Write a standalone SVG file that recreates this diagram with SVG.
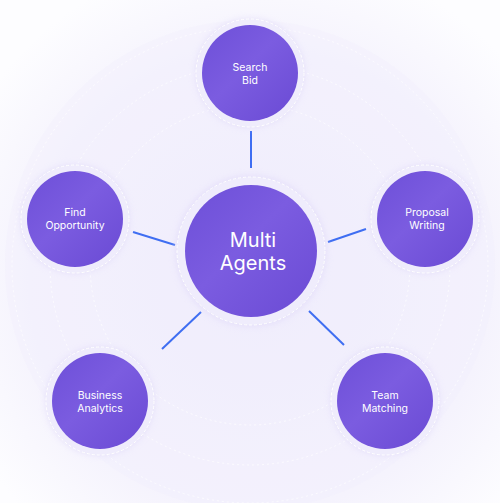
<svg xmlns="http://www.w3.org/2000/svg" width="500" height="503" viewBox="0 0 500 503">
  <defs>
    <radialGradient id="bg" cx="260" cy="280" r="330" gradientUnits="userSpaceOnUse">
      <stop offset="0" stop-color="#efecfc"/>
      <stop offset="0.7" stop-color="#f5f3fd"/>
      <stop offset="1" stop-color="#fdfdff"/>
    </radialGradient>
    <linearGradient id="nodeFill" x1="0" y1="0" x2="1" y2="1">
      <stop offset="0" stop-color="#6d4fd8"/>
      <stop offset="0.45" stop-color="#7b5ce0"/>
      <stop offset="1" stop-color="#6a4ad4"/>
    </linearGradient>
    <filter id="glow" x="-30%" y="-30%" width="160%" height="160%">
      <feGaussianBlur stdDeviation="3"/>
    </filter>
  </defs>
  <style>
    .ring { fill: #efecfc; stroke: #ffffff; stroke-width: 1; stroke-dasharray: 3 2; }
    .halo { fill: #dcd4f8; opacity: 0.5; filter: url(#glow); }
    .core { fill: url(#nodeFill); }
    .lbl { font-family: Inter, "Liberation Sans", sans-serif; font-size: 10.5px; fill: #ffffff; text-anchor: middle; }
    .big { font-family: Inter, "Liberation Sans", sans-serif; font-size: 20px; fill: #ffffff; text-anchor: middle; }
    .edge { stroke: #3f6ef2; stroke-width: 2; fill: none; }
    .orbit { fill: none; stroke: #ffffff; stroke-width: 1; opacity: 0.7; }
  </style>
  <rect width="500" height="503" fill="url(#bg)"/>
  <circle cx="250" cy="265" r="245" fill="#f1eefc" opacity="0.35"/>
  <circle cx="250" cy="265" r="238" class="orbit" stroke-dasharray="2 3"/>
  <circle cx="250" cy="265" r="200" class="orbit" stroke-dasharray="2 3"/>
  <circle cx="250" cy="265" r="160" class="orbit" stroke-dasharray="2 3" opacity="0.4"/>

  <g id="connectors">
    <line class="edge" x1="251" y1="131" x2="251" y2="168"/>
    <line class="edge" x1="133" y1="232" x2="175" y2="245"/>
    <line class="edge" x1="328" y1="242" x2="366" y2="229"/>
    <line class="edge" x1="162" y1="349" x2="201" y2="312"/>
    <line class="edge" x1="309" y1="311" x2="344" y2="345"/>
  </g>

  <g id="multi-agents">
    <circle class="halo" cx="251" cy="251" r="76"/>
    <circle class="ring" cx="251" cy="251" r="74"/>
    <circle class="core" cx="251" cy="251" r="66"/>
    <text class="big" x="253" y="247">Multi</text>
    <text class="big" x="253" y="270">Agents</text>
  </g>

  <g id="search-bid">
    <circle class="halo" cx="250" cy="73" r="55"/>
    <circle class="ring" cx="250" cy="73" r="54"/>
    <circle class="core" cx="250" cy="73" r="48"/>
    <text class="lbl" x="250" y="71">Search</text>
    <text class="lbl" x="250" y="84">Bid</text>
  </g>

  <g id="find-opportunity">
    <circle class="halo" cx="75" cy="219" r="55"/>
    <circle class="ring" cx="75" cy="219" r="54"/>
    <circle class="core" cx="75" cy="219" r="48"/>
    <text class="lbl" x="75" y="216">Find</text>
    <text class="lbl" x="75" y="229">Opportunity</text>
  </g>

  <g id="proposal-writing">
    <circle class="halo" cx="425" cy="219" r="55"/>
    <circle class="ring" cx="425" cy="219" r="54"/>
    <circle class="core" cx="425" cy="219" r="48"/>
    <text class="lbl" x="427" y="216">Proposal</text>
    <text class="lbl" x="427" y="229">Writing</text>
  </g>

  <g id="business-analytics">
    <circle class="halo" cx="100" cy="401" r="55"/>
    <circle class="ring" cx="100" cy="401" r="54"/>
    <circle class="core" cx="100" cy="401" r="48"/>
    <text class="lbl" x="100" y="399">Business</text>
    <text class="lbl" x="100" y="412">Analytics</text>
  </g>

  <g id="team-matching">
    <circle class="halo" cx="385" cy="401" r="55"/>
    <circle class="ring" cx="385" cy="401" r="54"/>
    <circle class="core" cx="385" cy="401" r="48"/>
    <text class="lbl" x="385" y="399">Team</text>
    <text class="lbl" x="385" y="412">Matching</text>
  </g>
</svg>
